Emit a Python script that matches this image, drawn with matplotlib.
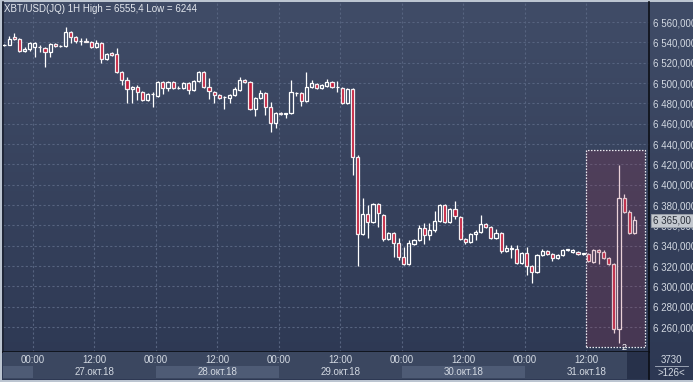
import numpy as np
import matplotlib
matplotlib.use("Agg")
import matplotlib.pyplot as plt
from matplotlib.patches import Rectangle
from matplotlib.transforms import blended_transform_factory
from matplotlib.ticker import FuncFormatter

plt.rcParams['font.family'] = ['Liberation Sans', 'DejaVu Sans']

# ---------------- data (hourly candles, hour offset from 27.10.18 00:00) ----------------
hours = list(range(-6, 118))
opens = [6537, 6537, 6545, 6543, 6532, 6533, 6535, 6535.5, 6534, 6531,
         6538, 6536, 6536, 6550, 6545, 6541, 6541.5, 6540, 6535, 6539,
         6524, 6530, 6529, 6511, 6503, 6494, 6496, 6491, 6483, 6489,
         6487, 6501, 6495, 6501, 6495, 6495, 6500, 6493, 6502, 6511,
         6496, 6491, 6488, 6486, 6485, 6488, 6493, 6503, 6501, 6474,
         6485, 6490, 6476, 6461, 6471, 6469.5, 6471, 6490, 6490, 6482,
         6496, 6499, 6495, 6497, 6501, 6496, 6495, 6480, 6494, 6427,
         6352, 6371, 6363, 6381, 6370, 6347, 6353, 6343, 6329, 6322,
         6342, 6346, 6357, 6351, 6355, 6364, 6380, 6363, 6376, 6368,
         6347, 6344, 6352, 6354, 6361, 6358, 6348, 6353, 6335, 6337,
         6337, 6323, 6333, 6320, 6314, 6331, 6335, 6332, 6328, 6331,
         6336, 6334, 6334, 6332, 6332, 6324, 6336, 6334, 6328, 6322,
         6258, 6387, 6373, 6353]
highs = [6538, 6546, 6549, 6544, 6535, 6540, 6540, 6537, 6535, 6539,
         6539, 6537, 6555.4, 6551, 6546, 6544, 6544, 6541, 6542, 6540,
         6530, 6531, 6534, 6512, 6506, 6497, 6498, 6492, 6490, 6491,
         6502, 6502, 6502, 6502, 6497, 6501, 6501, 6503, 6512, 6512,
         6505, 6492, 6489, 6487, 6489, 6496, 6506, 6504, 6502, 6486,
         6493, 6491, 6481, 6472, 6472, 6471, 6503, 6491, 6491, 6511,
         6503, 6500, 6499, 6504, 6502, 6502, 6496, 6495, 6495, 6429,
         6387, 6380, 6382, 6382, 6371, 6354, 6354, 6348, 6339, 6346,
         6347, 6360, 6362, 6362, 6374, 6381, 6381, 6377, 6384, 6369,
         6348, 6353, 6355, 6370, 6362, 6359, 6356, 6354, 6341, 6341,
         6341, 6334, 6339, 6321, 6332, 6337, 6336, 6333, 6332, 6337,
         6337, 6337, 6335, 6333, 6333, 6337, 6337, 6336, 6329, 6323,
         6419, 6391, 6375, 6369]
lows = [6536, 6537, 6542, 6531, 6531, 6532, 6526, 6531, 6516, 6526,
        6535, 6535, 6535, 6539, 6539, 6537, 6540, 6534, 6534, 6520,
        6523, 6527, 6510, 6498, 6480, 6480, 6483, 6482, 6482, 6476,
        6486, 6489, 6492, 6494, 6494, 6494, 6489, 6492, 6501, 6495,
        6484, 6480, 6484, 6474, 6480, 6487, 6492, 6500, 6473, 6468,
        6484, 6469, 6452, 6456, 6469, 6466, 6470, 6487, 6477, 6481,
        6495, 6494, 6494, 6496, 6495, 6491, 6479, 6479, 6410, 6320,
        6351, 6348, 6362, 6358, 6345, 6346, 6329, 6326, 6321, 6321,
        6341, 6345, 6342, 6346, 6354, 6363, 6362, 6362, 6366, 6346,
        6342, 6343, 6346, 6353, 6357, 6347, 6347, 6333, 6334, 6328,
        6322, 6322, 6311, 6303, 6313, 6330, 6331, 6325, 6327, 6330,
        6335, 6333, 6331, 6331, 6324, 6323, 6322, 6327, 6321, 6254,
        6244, 6372, 6352, 6352]
closes = [6537.5, 6543, 6543, 6532, 6533, 6539, 6539, 6535, 6531, 6538,
          6536, 6536.5, 6550, 6545, 6541, 6541.5, 6540.5, 6535, 6539, 6524,
          6529, 6528, 6511, 6503, 6494, 6496, 6491, 6483, 6489, 6489.5,
          6501, 6495, 6501, 6495, 6495.5, 6500, 6493, 6502, 6511, 6496,
          6492, 6488, 6485, 6486.5, 6488, 6494, 6503, 6501, 6474, 6485,
          6490, 6476, 6461, 6471, 6470, 6470.5, 6491, 6490.5, 6482, 6496,
          6500, 6495, 6498, 6501, 6496, 6496.5, 6480, 6494, 6427, 6352,
          6371, 6363, 6381, 6372, 6347, 6353, 6343, 6329, 6322, 6343,
          6346, 6357, 6351, 6355, 6364, 6380, 6363, 6376, 6369, 6347,
          6344, 6352, 6354, 6361, 6358, 6348, 6353, 6335, 6338, 6338,
          6323, 6333, 6320, 6314, 6331, 6335, 6332, 6328, 6331, 6336,
          6336.5, 6336, 6332, 6332.5, 6325, 6336, 6334, 6328, 6322, 6258,
          6387, 6373, 6353, 6365]

price_ticks = [6260, 6280, 6300, 6320, 6340, 6360, 6380, 6400, 6420, 6440,
               6460, 6480, 6500, 6520, 6540, 6560]
time_ticks = [0, 12, 24, 36, 48, 60, 72, 84, 96, 108]
time_labels = ["00:00", "12:00"] * 5
date_pos = [12, 36, 60, 84, 108]
date_labels = ["27.окт.18", "28.окт.18", "29.окт.18", "30.окт.18", "31.окт.18"]
title = "XBT/USD(JQ) 1H High = 6555,4 Low = 6244"
last_price_label = "6 365,00"
last_price = 6365
sel_start, sel_end, sel_low, sel_high = 108, 119.4, 6240.4, 6434
corner_top, corner_bottom = "3730", ">126<"

# ---------------- layout helpers ----------------
W, H = 693, 382
def box(x0, y0, x1, y1):
    return [x0 / W, 1 - y1 / H, (x1 - x0) / W, (y1 - y0) / H]

fig = plt.figure(figsize=(W / 100, H / 100), dpi=100)
fig.patch.set_facecolor('#bcc5d1')

# background gradient panel
bg = fig.add_axes(box(2, 2, 693, 380))
grad = np.linspace(0, 1, 256).reshape(-1, 1)
from matplotlib.colors import LinearSegmentedColormap
cmap = LinearSegmentedColormap.from_list('bgc', ['#404c67', '#2d3853'])
bg.imshow(grad, aspect='auto', cmap=cmap, extent=[0, 1, 0, 1], origin='upper')
bg.set_axis_off()

TXT = '#d3d9e2'
FS = 7

# ---------------- main chart ----------------
ax = fig.add_axes(box(3, 2, 649, 352))
ax.set_facecolor('none')
ax.set_xlim(-5.85, 120.2)
ax.set_ylim(6235.5, 6579.7)
ax.set_xticks(time_ticks)
ax.set_yticks(price_ticks)
ax.grid(True, color='#56637f', lw=0.8, linestyle=(0, (2, 2)))
ax.set_axisbelow(True)
ax.tick_params(axis='x', length=0, labelbottom=False)
ax.yaxis.tick_right()
ax.tick_params(axis='y', length=0, pad=3, labelsize=FS, labelcolor=TXT)
ax.yaxis.set_major_formatter(FuncFormatter(
    lambda v, p: f"{int(v) // 1000} {int(v) % 1000:03d},000"))
for s in ['top']:
    ax.spines[s].set_visible(False)
ax.spines['left'].set_color('#1c2232')
ax.spines['right'].set_color('#0c0f16')
ax.spines['bottom'].set_color('#0c0f16')
for s in ['left', 'right', 'bottom']:
    ax.spines[s].set_linewidth(1.2)

o = np.array(opens, float); c = np.array(closes, float)
h = np.array(highs, float); l = np.array(lows, float)
xs = np.array(hours, float) + 0.35
top = np.maximum(o, c); bot = np.minimum(o, c)
ax.vlines(xs, top, h, color='white', lw=0.9, zorder=3)
ax.vlines(xs, l, bot, color='white', lw=0.9, zorder=3)
up = c >= o
hgt = np.maximum(top - bot, 0.35)
ax.bar(xs[up], hgt[up], bottom=bot[up], width=0.62, facecolor='none',
       edgecolor='white', linewidth=0.9, zorder=4)
ax.bar(xs[~up], hgt[~up], bottom=bot[~up], width=0.62, facecolor='#c31d3b',
       edgecolor='#f4eef0', linewidth=0.9, zorder=4)

# selection highlight
ax.add_patch(Rectangle((sel_start, sel_low), sel_end - sel_start, sel_high - sel_low,
                       facecolor='#a0304e', alpha=0.22, edgecolor='none', zorder=5))
ax.add_patch(Rectangle((sel_start, sel_low), sel_end - sel_start, sel_high - sel_low,
                       facecolor='none', edgecolor='#e8e8ee', lw=0.9,
                       linestyle=(0, (1.2, 1.2)), zorder=6))
ax.text(115.3, sel_low, "2", color='white', fontsize=6.5, ha='center', va='center', zorder=7)

# last price tag
tr = blended_transform_factory(ax.transAxes, ax.transData)
ax.text(1.006, last_price, last_price_label, transform=tr, fontsize=FS, color='#2a2f3a',
        ha='left', va='center', zorder=8, clip_on=False,
        bbox=dict(boxstyle='square,pad=0.18', facecolor='#c3c8cf', edgecolor='#9aa0aa', lw=0.6))

fig.text(4 / W, 1 - 9 / H, title, fontsize=FS, color='#e4e8ee', ha='left', va='center')

# ---------------- bottom time bar ----------------
bx = fig.add_axes(box(3, 352, 649, 379))
bx.set_facecolor('#3b4760')
bx.set_xlim(ax.get_xlim())
bx.set_ylim(0, 1)
for d0 in [-24, 24, 72]:
    bx.axvspan(d0, d0 + 24, ymin=0.04, ymax=0.48, color='#4e5b75', lw=0)
bx.axvspan(115.9, 121, ymin=0, ymax=1, color='#27314a', lw=0)
for t, lab in zip(time_ticks, time_labels):
    bx.text(t, 0.7, lab, fontsize=FS, color=TXT, ha='center', va='center')
for t, lab in zip(date_pos, date_labels):
    bx.text(t, 0.27, lab, fontsize=FS, color=TXT, ha='center', va='center')
bx.set_xticks([]); bx.set_yticks([])
for s in bx.spines.values():
    s.set_visible(False)
bx.spines['right'].set_visible(True)
bx.spines['right'].set_color('#0c0f16')
bx.spines['right'].set_linewidth(1.2)

# corner box
cx = fig.add_axes(box(650, 353, 693, 379))
cx.set_facecolor('#3b4760')
cx.set_xlim(0, 1); cx.set_ylim(0, 1)
cx.text(0.5, 0.72, corner_top, fontsize=FS, color=TXT, ha='center', va='center')
cx.text(0.5, 0.25, corner_bottom, fontsize=FS, color=TXT, ha='center', va='center')
cx.plot([0.12, 0.88], [0.5, 0.5], color='#aab3c2', lw=0.6)
cx.set_axis_off()
cx.patch.set_visible(True)

fig.savefig('out.png', dpi=100)
